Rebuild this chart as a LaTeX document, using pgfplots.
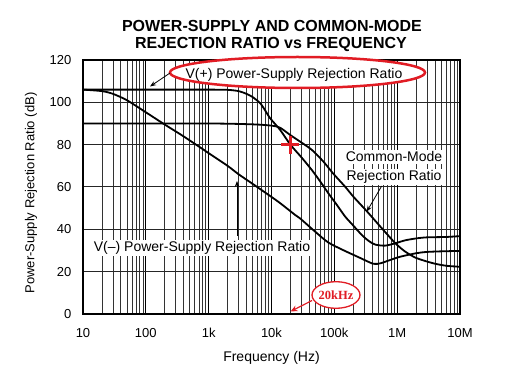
\documentclass[border=0pt]{standalone}
\usepackage{fontspec}
\setmainfont{Liberation Sans}
\newfontfamily\serifb{Liberation Serif}
\usepackage{pgfplots}
\pgfplotsset{compat=1.18}
\usetikzlibrary{arrows.meta}
\definecolor{annred}{RGB}{225,28,36}
\begin{document}
\begin{tikzpicture}
% grid (drawn beneath the axis; 1 decade = 377/6 pt, 20 dB = 254/6 pt)
\begin{scope}[x=1pt,y=1pt]
\foreach \d in {0,...,5}{
  \foreach \m in {2,...,9}{
    \draw[black!80, line width=0.7pt] ({62.8333*(\d+log10(\m))},0) -- ++(0,254);
  }
}
\foreach \d in {1,...,5}{
  \draw[black, line width=1.1pt] ({62.8333*\d},0) -- ++(0,254);
  \draw[black!85, line width=1.0pt] (0,{42.3333*\d}) -- ++(377,0);
}
\end{scope}
\begin{axis}[
  at={(0pt,0pt)}, anchor=south west,
  scale only axis, width=377pt, height=254pt,
  xmode=log, log basis x=10,
  xmin=10, xmax=1e7, ymin=0, ymax=120,
  xtick={10,100,1000,10000,100000,1000000,10000000},
  xticklabels={10,100,1k,10k,100k,1M,10M},
  ytick={0,20,40,60,80,100,120},
  minor x tick num=0, minor y tick num=0,
  axis line style={line width=2.4pt},
  tickwidth=0pt, subtickwidth=0pt,
  /pgf/number format/assume math mode=true,
  tick label style={font=\fontsize{13}{15}\selectfont, inner sep=0pt},
  xticklabel style={anchor=base, yshift=-23.5pt},
  yticklabel style={anchor=east, xshift=-11.5pt},
  clip=false,
]
% V(+) PSRR
\addplot[black, line width=1.8pt, smooth, tension=0.45] coordinates {
(10,106) (100,106) (1000,106) (2000,105.9) (3000,105.3) (4000,104) (5000,102.5)
(6600,99.6) (8000,96) (9500,92.5) (13700,87) (20000,80) (30000,74) (43900,68)
(60000,62.5) (80500,57) (110000,51.5) (149000,46) (200000,41.8) (274000,37.3)
(350000,34.6) (447000,32.8) (645000,32.3) (930000,33.4) (1340000,34.8)
(2000000,35.7) (2940000,36.2) (6100000,36.4) (10000000,36.8)};
% CMRR
\addplot[black, line width=1.8pt, smooth, tension=0.45] coordinates {
(10,90) (1000,90) (5000,89.6) (10000,89) (13700,88) (20000,84.5) (30000,81)
(44000,77.5) (67000,72) (95000,66.5) (150000,60) (200000,55.5) (330000,48.5)
(570000,40.5) (930000,33.5) (1340000,29.5) (2000000,26.5) (3700000,24)
(6000000,22.8) (10000000,22.3)};
% V(-) PSRR
\addplot[black, line width=1.8pt, smooth, tension=0.45] coordinates {
(10,106) (20,105.3) (30,104) (50,101) (100,95.3) (200,89.5) (350,85) (500,82)
(1000,76) (2000,70) (3000,66) (5000,61.5) (10000,55.3) (13700,52.4)
(23800,46.8) (28400,45.2) (50000,38.8) (80000,33.8) (138000,30.2)
(257000,26.5) (418000,23.7) (550000,24) (690000,25) (1100000,27)
(2000000,28.7) (2900000,29.3) (5000000,29.6) (10000000,29.8)};
% red cross at 20 kHz
\addplot[annred, only marks, mark=+, mark size=9pt, mark options={line width=2.5pt}] coordinates {(20000,80)};
\end{axis}
\begin{scope}[x=1pt,y=1pt]
\useasboundingbox (-83,-64) rectangle (424,314);
% title
\node[anchor=base, font=\bfseries\fontsize{16}{18}\selectfont] at (189,282.3) {POWER-SUPPLY AND COMMON-MODE};
\node[anchor=base, font=\bfseries\fontsize{16}{18}\selectfont] at (188,265.7) {REJECTION RATIO vs FREQUENCY};
% axis labels
\node[rotate=90, font=\fontsize{13}{15}\selectfont] at (-52,121) {Power-Supply Rejection Ratio (dB)};
\node[anchor=base, font=\fontsize{14}{16}\selectfont] at (188.5,-48) {Frequency (Hz)};
% V(+) label
\draw[annred, line width=2.5pt, fill=white] (214.5,241.5) ellipse [x radius=127.5, y radius=15.5];
\node[font=\fontsize{14}{16}\selectfont] at (211,239) {V(+) Power-Supply Rejection Ratio};
\draw[line width=0.8pt, -{Stealth[length=6pt,width=4.5pt]}] (87,241) -- (67,227.5);
% CMRR label
\node[anchor=base, fill=white, inner sep=1.5pt, font=\fontsize{14}{16}\selectfont] at (311,152) {Common-Mode};
\node[anchor=base, fill=white, inner sep=1.5pt, font=\fontsize{14}{16}\selectfont] at (311,133) {Rejection Ratio};
\draw[line width=0.8pt, -{Stealth[length=6pt,width=4.5pt]}] (298.7,128) -- (283.7,102.3);
% V(-) label
\node[anchor=base, fill=white, inner sep=1.5pt, font=\fontsize{14}{16}\selectfont] at (119,62) {V(–) Power-Supply Rejection Ratio};
\draw[line width=0.8pt, -{Stealth[length=6pt,width=4.5pt]}] (154,78) -- (154,133);
% 20kHz callout
\draw[annred, line width=1.3pt, fill=white] (253,19) ellipse [x radius=24, y radius=13.3];
\node[text=annred, font=\serifb\bfseries\fontsize{12.5}{14}\selectfont] at (253,19) {20kHz};
\draw[annred, line width=1.2pt, -{Stealth[length=7pt,width=6pt]}] (229,13.5) -- (207.5,2.5);
\end{scope}
\end{tikzpicture}
\end{document}
